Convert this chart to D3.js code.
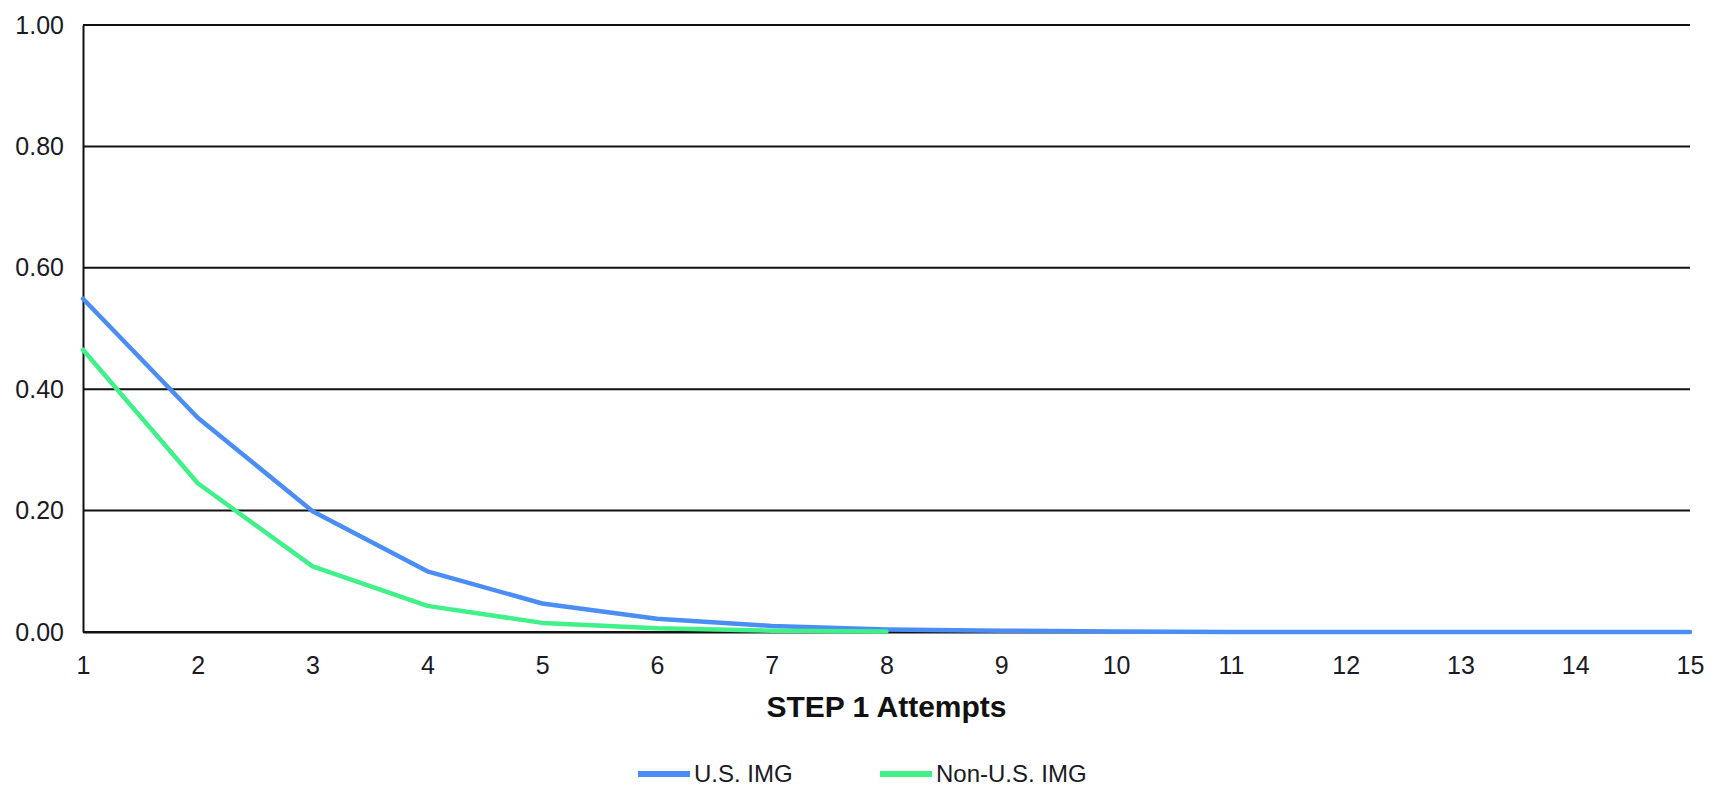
<!DOCTYPE html>
<html><head><meta charset="utf-8">
<script src="https://cdn.jsdelivr.net/npm/d3@7"></script>
<style>body{margin:0;background:#fff;}svg{display:block;font-family:"Liberation Sans",Arial,sans-serif;}</style>
</head><body>
<svg id="c" width="1725" height="788"></svg>
<script>
const attempts = [1,2,3,4,5,6,7,8,9,10,11,12,13,14,15];
const usImg = [0.549,0.353,0.199,0.100,0.047,0.022,0.010,0.004,0.002,0.001,0.000,0.000,0.000,0.000,0.000];
const nonUsAttempts = [1,2,3,4,5,6,7,8];
const nonUsImg = [0.465,0.245,0.108,0.043,0.015,0.006,0.002,0.001];
const yTicks = [0,0.2,0.4,0.6,0.8,1.0];
const seriesNames = ["U.S. IMG","Non-U.S. IMG"];
const colors = ["#4a8ef5","#40f088"];

const svg = d3.select("#c");
const m = {l:83, r:1690, t:25, b:632};
const x = d3.scaleLinear().domain([1,15]).range([m.l,m.r]);
const y = d3.scaleLinear().domain([0,1]).range([m.b,m.t]);
const textCol = "#1a1a24";

// gridlines
svg.append("g").selectAll("line").data(yTicks).join("line")
  .attr("x1",m.l).attr("x2",m.r).attr("y1",d=>y(d)).attr("y2",d=>y(d))
  .attr("stroke","#111").attr("stroke-width",2);

// y axis
const ya = svg.append("g").attr("transform",`translate(${m.l},0)`)
  .call(d3.axisLeft(y).tickValues(yTicks).tickFormat(d3.format(".2f")).tickSize(0).tickPadding(19));
ya.select(".domain").attr("stroke","#111").attr("stroke-width",2);
ya.selectAll("text").attr("font-size",25).attr("fill",textCol).attr("font-family","Liberation Sans,Arial,sans-serif");

// x axis
const xa = svg.append("g").attr("transform",`translate(0,${m.b})`)
  .call(d3.axisBottom(x).tickValues(attempts).tickFormat(d3.format("d")).tickSize(0).tickPadding(24));
xa.select(".domain").attr("stroke","#111").attr("stroke-width",2);
xa.selectAll("text").attr("font-size",25).attr("fill",textCol).attr("font-family","Liberation Sans,Arial,sans-serif");

// x title
svg.append("text").attr("x",(m.l+m.r)/2).attr("y",717).attr("text-anchor","middle")
  .attr("font-size",30).attr("font-weight","bold").attr("fill","#111").text("STEP 1 Attempts");

const line = d3.line().x(d=>x(d[0])).y(d=>y(d[1]));
svg.append("path").datum(attempts.map((a,i)=>[a,usImg[i]])).attr("d",line)
  .attr("fill","none").attr("stroke",colors[0]).attr("stroke-width",4.5).attr("stroke-linejoin","round").attr("stroke-linecap","round");
svg.append("path").datum(nonUsAttempts.map((a,i)=>[a,nonUsImg[i]])).attr("d",line)
  .attr("fill","none").attr("stroke",colors[1]).attr("stroke-width",4.5).attr("stroke-linejoin","round").attr("stroke-linecap","round");

// legend
const legX = [638,880];
const lg = svg.append("g").selectAll("g").data(seriesNames).join("g")
  .attr("transform",(d,i)=>`translate(${legX[i]},774)`);
lg.append("line").attr("x1",0).attr("x2",52).attr("stroke",(d,i)=>colors[i]).attr("stroke-width",6);
lg.append("text").attr("x",56).attr("dy","0.35em").attr("font-size",24).attr("fill",textCol).text(d=>d);
</script>
</body></html>
